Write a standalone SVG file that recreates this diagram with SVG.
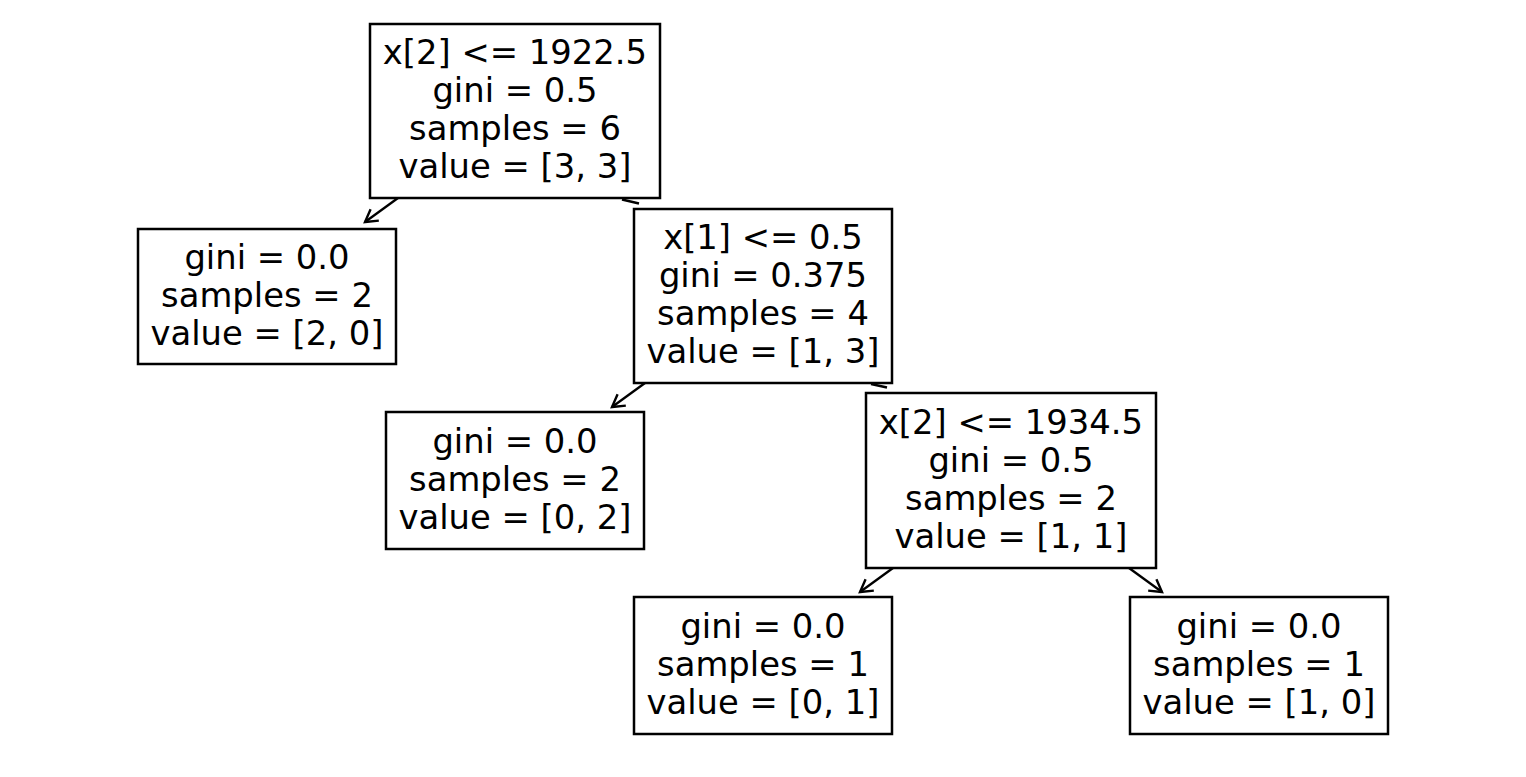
<svg xmlns="http://www.w3.org/2000/svg" width="1526" height="777" viewBox="0 0 1526 777">
<style>
.box{fill:#fff;stroke:#000;stroke-width:2.5}
.t{font-family:"DejaVu Sans",sans-serif;font-size:33.8px;fill:#000;text-anchor:middle}
.edge{stroke:#000;stroke-width:2.4;fill:none}
</style>
<defs>
<marker id="ah" markerUnits="userSpaceOnUse" markerWidth="30" markerHeight="30" refX="0" refY="0" viewBox="-15 -15 30 30" orient="auto" overflow="visible">
<path d="M-12,-7 L0,0 L-12,7" fill="none" stroke="#000" stroke-width="2.4"/>
</marker>
</defs>
<rect width="1526" height="777" fill="#fff"/>
<g id="connectors">
<line class="edge" x1="398" y1="198" x2="365" y2="222" marker-end="url(#ah)"/>
<line class="edge" x1="622" y1="199.5" x2="639" y2="203.5" stroke-width="3"/>
<line class="edge" x1="645" y1="383" x2="612" y2="407" marker-end="url(#ah)"/>
<line class="edge" x1="871" y1="384" x2="887" y2="387.5" stroke-width="3"/>
<line class="edge" x1="893" y1="568" x2="860" y2="592" marker-end="url(#ah)"/>
<line class="edge" x1="1129" y1="568" x2="1162" y2="592" marker-end="url(#ah)"/>
</g>
<g id="node0">
<rect class="box" x="370" y="24" width="290" height="174"/>
<text class="t" x="515" y="64">x[2] &lt;= 1922.5</text>
<text class="t" x="515" y="102">gini = 0.5</text>
<text class="t" x="515" y="140">samples = 6</text>
<text class="t" x="515" y="178">value = [3, 3]</text>
</g>
<g id="node1">
<rect class="box" x="138" y="229" width="258" height="135"/>
<text class="t" x="267" y="269">gini = 0.0</text>
<text class="t" x="267" y="307">samples = 2</text>
<text class="t" x="267" y="345">value = [2, 0]</text>
</g>
<g id="node2">
<rect class="box" x="634" y="209" width="258" height="174"/>
<text class="t" x="763" y="249">x[1] &lt;= 0.5</text>
<text class="t" x="763" y="287">gini = 0.375</text>
<text class="t" x="763" y="325">samples = 4</text>
<text class="t" x="763" y="363">value = [1, 3]</text>
</g>
<g id="node3">
<rect class="box" x="386" y="412" width="258" height="137"/>
<text class="t" x="515" y="453">gini = 0.0</text>
<text class="t" x="515" y="491">samples = 2</text>
<text class="t" x="515" y="529">value = [0, 2]</text>
</g>
<g id="node4">
<rect class="box" x="866" y="393" width="290" height="175"/>
<text class="t" x="1011" y="434">x[2] &lt;= 1934.5</text>
<text class="t" x="1011" y="472">gini = 0.5</text>
<text class="t" x="1011" y="510">samples = 2</text>
<text class="t" x="1011" y="548">value = [1, 1]</text>
</g>
<g id="node5">
<rect class="box" x="634" y="597" width="258" height="137"/>
<text class="t" x="763" y="638">gini = 0.0</text>
<text class="t" x="763" y="676">samples = 1</text>
<text class="t" x="763" y="714">value = [0, 1]</text>
</g>
<g id="node6">
<rect class="box" x="1130" y="597" width="258" height="137"/>
<text class="t" x="1259" y="638">gini = 0.0</text>
<text class="t" x="1259" y="676">samples = 1</text>
<text class="t" x="1259" y="714">value = [1, 0]</text>
</g>
</svg>
